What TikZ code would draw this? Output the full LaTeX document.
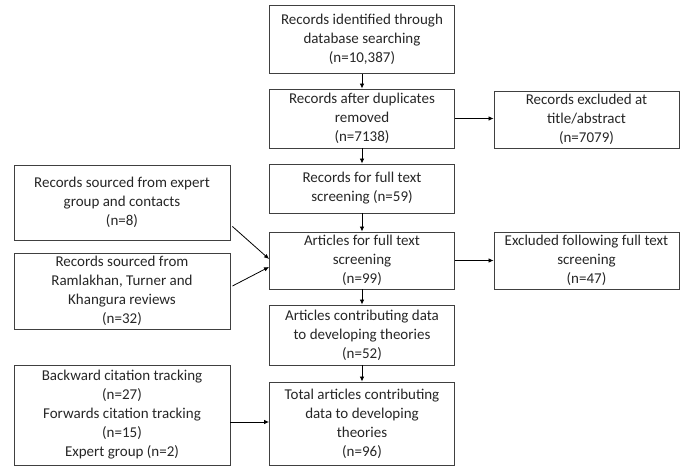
\documentclass[tikz,border=0pt]{standalone}
\usepackage{fontspec}
\setmainfont{Carlito}
\usetikzlibrary{arrows.meta}
\begin{document}
\begin{tikzpicture}[x=1pt,y=-1pt,
  box/.style={draw=black!75,line width=0.9pt,rectangle,align=center,inner sep=0pt,
    font=\fontsize{15}{19}\selectfont,text=black!85},
  arr/.style={-{Latex[length=5pt,width=4.5pt]},line width=0.8pt,black}]
\useasboundingbox (0,0) rectangle (689,473);
\node[box,minimum width=185pt,minimum height=68pt] (b1) at (362,39.5) {Records identified through\\database searching\\(n=10,387)};
\node[box,minimum width=185pt,minimum height=59pt] (b2) at (362,118.5) {Records after duplicates\\removed\\(n=7138)};
\node[box,minimum width=185pt,minimum height=57pt] (b3) at (586.5,119.5) {Records excluded at\\title/abstract\\(n=7079)};
\node[box,minimum width=185pt,minimum height=49pt] (b4) at (362,188.5) {Records for full text\\screening (n=59)};
\node[box,minimum width=185pt,minimum height=57pt] (b5) at (362,260.5) {Articles for full text\\screening\\(n=99)};
\node[box,minimum width=185pt,minimum height=57pt] (b6) at (586.5,260.5) {Excluded following full text\\screening\\(n=47)};
\node[box,minimum width=185pt,minimum height=60pt] (b7) at (362,335) {Articles contributing data\\to developing theories\\(n=52)};
\node[box,minimum width=185pt,minimum height=83pt] (b8) at (362,423.5) {Total articles contributing\\data to developing\\theories\\(n=96)};
\node[box,minimum width=216pt,minimum height=75pt] (l1) at (122,202.5) {Records sourced from expert\\group and contacts\\(n=8)};
\node[box,minimum width=216pt,minimum height=76pt] (l2) at (122,291) {Records sourced from\\Ramlakhan, Turner and\\Khangura reviews\\(n=32)};
\node[box,minimum width=216pt,minimum height=100pt] (l3) at (122,415) {Backward citation tracking\\(n=27)\\Forwards citation tracking\\(n=15)\\Expert group (n=2)};
\coordinate (l3o) at ([yshift=-7pt]l3.east);
\draw[arr] (b1) -- (b2);
\draw[arr] (b2) -- (b4);
\draw[arr] (b4) -- (b5);
\draw[arr] (b5) -- (b7);
\draw[arr] (b7) -- (b8);
\draw[arr] (b2.east) -- (b2.east -| b3.west);
\draw[arr] (b5.east) -- (b6.west);
\draw[arr] ([xshift=2pt,yshift=-24pt]l1.east) -- ([yshift=1.5pt]b5.west);
\draw[arr] ([xshift=2pt,yshift=5pt]l2.east) -- ([yshift=-6.5pt]b5.west);
\draw[arr] (l3o) -- (l3o -| b8.west);
\end{tikzpicture}
\end{document}
